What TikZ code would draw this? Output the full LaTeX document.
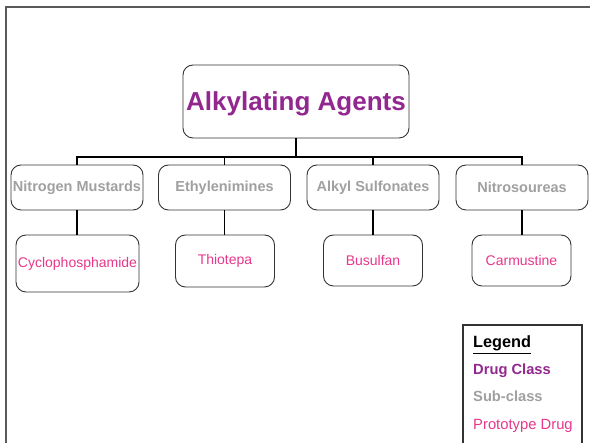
\documentclass[tikz,border=0pt]{standalone}
\usepackage{fontspec}
\setmainfont{Liberation Sans}
\usepackage{xcolor}
\usepackage{tikz}
\usetikzlibrary{positioning}
\definecolor{drugclass}{HTML}{92278F}
\definecolor{subclass}{HTML}{A0A0A0}
\definecolor{prototype}{HTML}{E6378A}
\definecolor{framegray}{HTML}{5A5A5A}

\begin{document}
\begin{tikzpicture}[x=1pt, y=-1pt,
        box/.style={draw=black!80, rounded corners=10pt, line width=0.9pt, inner sep=0pt},
        classbox/.style={box, minimum width=132pt, minimum height=45pt, text=subclass,
            font=\fontsize{14.5}{16}\selectfont\bfseries},
        drugbox/.style={box, minimum width=99pt, minimum height=51pt, text=prototype,
            font=\fontsize{14}{16}\selectfont},
        legtext/.style={anchor=base west, inner sep=0pt, font=\fontsize{14.5}{16}\selectfont},
        link/.style={draw=black, line width=1.5pt}]
        \useasboundingbox (0,0) rectangle (590,443);
        % frame, cut off at the page edges
        \draw[framegray, line width=1.4pt] (6,443) -- (6,7) -- (590,7);
        % root
        \node[box, minimum width=226pt, minimum height=73pt, text depth=0pt, text=drugclass,
            font=\fontsize{26}{30}\selectfont\bfseries] (root) at (296,101.5) {Alkylating Agents};
        % sub-classes
        \node[classbox] (nm) at (77,187.5) {Nitrogen Mustards};
        \node[classbox] (eth) at (224.5,187.5) {Ethylenimines};
        \node[classbox] (als) at (373,187.5) {Alkyl Sulfonates};
        \node[classbox] (nit) at (522,187.5) {Nitrosoureas};
        % prototype drugs
        \node[drugbox, minimum width=123pt, minimum height=57pt] (cyc) at (77.5,263.5) {Cyclophosphamide};
        \node[drugbox, minimum height=52pt] (thio) at (225,261) {Thiotepa};
        \node[drugbox] (busu) at (373,260.5) {Busulfan};
        \node[drugbox] (carm) at (521.5,260.5) {Carmustine};
        % connectors
        \coordinate (bus) at (296,157);
        \draw[link, line width=1.9pt] (root) -- (bus);
        \draw[link, line width=1.9pt] (nm.north) |- (bus) -| (nit.north);
        \draw[link] (eth.north) -- (eth.north |- bus);
        \draw[link] (als.north) -- (als.north |- bus);
        \draw[link] (nm) -- (nm |- cyc.north);
        \draw[link] (eth) -- (eth |- thio.north);
        \draw[link] (als) -- (als |- busu.north);
        \draw[link] (nit) -- (nit |- carm.north);
        % legend
        \draw[black!80, line width=1.2pt] (463,443) -- (463,325) -- (582,325) -- (582,443);
        \node[legtext, font=\fontsize{16.3}{18}\selectfont\bfseries] (legtitle) at (473,348) {\underline{Legend}};
        \node[legtext, text=drugclass, font=\fontsize{14.7}{16}\selectfont\bfseries] (legclass) at (473,375) {Drug Class};
        \node[legtext, text=subclass, font=\fontsize{14.7}{16}\selectfont\bfseries] (legsub) at (473,402) {Sub-class};
        \node[legtext, text=prototype, font=\fontsize{14.8}{16}\selectfont] (legdrug) at (473,430) {Prototype Drug};
    \end{tikzpicture}
\end{document}
